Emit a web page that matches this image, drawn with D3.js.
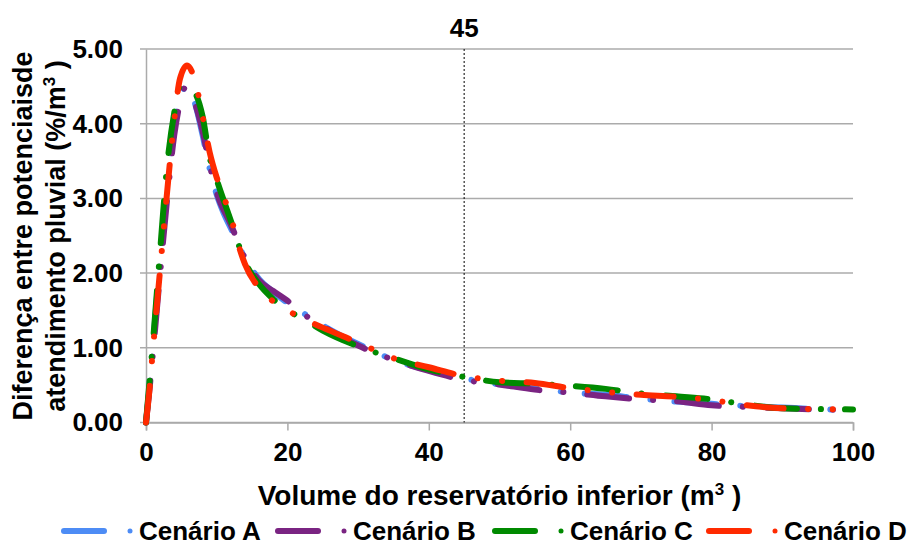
<!DOCTYPE html>
<html>
<head>
<meta charset="utf-8">
<script src="https://cdn.jsdelivr.net/npm/d3@7"></script>
<style>
  body { margin: 0; background: #fff; }
  svg { font-family: "Liberation Sans", Arial, sans-serif; font-weight: bold; }
</style>
</head>
<body>
<svg id="chart" width="909" height="545"></svg>
<script>
// valores
const seriesNames = ['Cenário A', 'Cenário B', 'Cenário C', 'Cenário D'];

const volA = [0, 0.5, 1, 2, 3, 4, 5, 5.8, 7, 8, 9, 10, 11, 12, 14, 16, 18, 20, 22, 25, 30, 35, 40, 45, 50, 55, 60, 65, 70, 75, 80, 85, 90, 95, 100];
const difA = [0, 0.5, 1.05, 2.2, 3.2, 4.0, 4.4, 4.5, 4.25, 3.85, 3.4, 3.05, 2.8, 2.6, 2.2, 1.92, 1.75, 1.6, 1.48, 1.3, 1.05, 0.84, 0.7, 0.59, 0.51, 0.46, 0.4, 0.37, 0.32, 0.28, 0.25, 0.22, 0.2, 0.18, 0.17];

const volB = [0, 0.5, 1, 2, 3, 4, 5, 5.5, 6, 7, 8, 9, 10, 12, 14, 16, 18, 20, 22, 25, 30, 35, 40, 45, 50, 55, 60, 65, 70, 75, 80, 85, 90, 95, 100];
const difB = [0, 0.45, 0.95, 2.0, 3.0, 3.85, 4.35, 4.48, 4.45, 4.25, 3.9, 3.45, 3.08, 2.65, 2.2, 1.9, 1.76, 1.63, 1.47, 1.29, 1.03, 0.84, 0.69, 0.57, 0.51, 0.44, 0.4, 0.35, 0.31, 0.285, 0.23, 0.21, 0.19, 0.175, 0.165];

const volC = [0, 0.5, 1, 2, 3, 4, 4.8, 5.5, 7, 8, 9, 10, 12, 14, 16, 18, 20, 22, 25, 30, 35, 40, 45, 50, 55, 60, 65, 70, 75, 80, 85, 90, 95, 100];
const difC = [0, 0.55, 1.1, 2.3, 3.45, 4.15, 4.5, 4.52, 4.4, 4.1, 3.55, 3.25, 2.7, 2.15, 1.85, 1.65, 1.5, 1.4, 1.23, 1.02, 0.86, 0.71, 0.61, 0.54, 0.52, 0.49, 0.45, 0.39, 0.35, 0.31, 0.24, 0.19, 0.18, 0.175];

const volD = [0, 0.5, 1, 2, 3, 4, 4.8, 5.8, 7, 8, 9, 10, 11, 12, 13, 14, 16, 18, 20, 22, 25, 30, 35, 40, 45, 50, 55, 60, 65, 70, 75, 80, 85, 90, 95, 100];
const difD = [0, 0.45, 1.0, 2.05, 3.1, 4.05, 4.6, 4.78, 4.55, 4.1, 3.62, 3.28, 3.02, 2.75, 2.4, 2.12, 1.8, 1.62, 1.5, 1.4, 1.27, 1.07, 0.86, 0.74, 0.62, 0.56, 0.53, 0.46, 0.41, 0.37, 0.345, 0.3, 0.23, 0.19, 0.18, 0.175];

const yTicks = [0, 1, 2, 3, 4, 5];
const xTicks = [0, 20, 40, 60, 80, 100];
const markVolume = 45;

const colors = ['#4d8cf5', '#7a2482', '#008a00', '#ff2a00'];
const dashes = ['42,24,0.1,24', '42,24,0.1,24', '42,24,0.1,24', '37,24.5,0.1,24.5,0.1,24.5'];

const svg = d3.select('#chart');

const x = d3.scaleLinear().domain([0, 100]).range([146, 853]);
const y = d3.scaleLinear().domain([0, 5]).range([422.5, 49]);

// grade horizontal
svg.append('g')
  .selectAll('line')
  .data(yTicks)
  .enter()
  .append('line')
  .attr('x1', x(0) - 6)
  .attr('x2', x(100))
  .attr('y1', d => y(d))
  .attr('y2', d => y(d))
  .attr('stroke', '#ababab')
  .attr('stroke-width', 1.5);

// eixo Y
const yAxis = svg.append('g')
  .attr('transform', `translate(${x(0)},0)`)
  .call(d3.axisLeft(y).tickValues(yTicks).tickFormat(d3.format('.2f')).tickSize(0).tickPadding(23));
yAxis.select('.domain').attr('stroke', '#ababab').attr('stroke-width', 1.5);
yAxis.selectAll('text').style('font-size', '26px').attr('fill', '#000');

// eixo X
const xAxis = svg.append('g')
  .attr('transform', `translate(0,${y(0)})`)
  .call(d3.axisBottom(x).tickValues(xTicks).tickSize(8).tickPadding(12));
xAxis.select('.domain').attr('stroke', '#ababab').attr('stroke-width', 1.5);
xAxis.selectAll('line').attr('stroke', '#ababab').attr('stroke-width', 1.5);
xAxis.selectAll('text').style('font-size', '26px').attr('fill', '#000');

// linha vertical em 45
svg.append('line')
  .attr('x1', x(markVolume))
  .attr('x2', x(markVolume))
  .attr('y1', y(5))
  .attr('y2', y(0))
  .attr('stroke', '#000')
  .attr('stroke-width', 1)
  .attr('stroke-dasharray', '2,2');

svg.append('text')
  .attr('x', x(markVolume))
  .attr('y', 37)
  .attr('text-anchor', 'middle')
  .style('font-size', '26px')
  .text(markVolume);

// séries
const series = [
  { name: seriesNames[0], vol: volA, dif: difA },
  { name: seriesNames[1], vol: volB, dif: difB },
  { name: seriesNames[2], vol: volC, dif: difC },
  { name: seriesNames[3], vol: volD, dif: difD }
];

const line = d3.line()
  .x(d => x(d[0]))
  .y(d => y(d[1]))
  .curve(d3.curveMonotoneX);

svg.append('g')
  .selectAll('path')
  .data(series)
  .enter()
  .append('path')
  .attr('d', s => line(s.vol.map((v, i) => [v, s.dif[i]])))
  .attr('fill', 'none')
  .attr('stroke', (s, i) => colors[i])
  .attr('stroke-width', 6)
  .attr('stroke-linecap', 'round')
  .attr('stroke-dasharray', (s, i) => dashes[i]);

// títulos dos eixos
svg.append('text')
  .attr('x', (x(0) + x(100)) / 2)
  .attr('y', 505)
  .attr('text-anchor', 'middle')
  .style('font-size', '28px')
  .html('Volume do reservatório inferior (m<tspan dy="-10" font-size="17">3</tspan><tspan dy="10"> )</tspan>');

const yTitle = svg.append('text')
  .attr('transform', 'translate(0,236) rotate(-90)')
  .attr('text-anchor', 'middle')
  .style('font-size', '27px');
yTitle.append('tspan').attr('x', 0).attr('y', 32).text('Diferença entre potenciaisde');
yTitle.append('tspan').attr('x', 0).attr('y', 65)
  .html('atendimento pluvial (%/m<tspan dy="-10" font-size="17">3</tspan><tspan dy="10"> )</tspan>');

// legenda
const legendX = [61, 275, 492, 706];
const legend = svg.append('g')
  .selectAll('g')
  .data(series)
  .enter()
  .append('g')
  .attr('transform', (s, i) => `translate(${legendX[i]},531)`);

legend.append('line')
  .attr('x1', 3).attr('x2', 43).attr('y1', 0).attr('y2', 0)
  .attr('stroke', (s, i) => colors[i])
  .attr('stroke-width', 6)
  .attr('stroke-linecap', 'round');

legend.append('circle')
  .attr('cx', 69).attr('cy', 0).attr('r', 2.5)
  .attr('fill', (s, i) => colors[i]);

legend.append('text')
  .attr('x', 78)
  .attr('y', 9)
  .style('font-size', '26px')
  .text(s => s.name);
</script>
</body>
</html>
